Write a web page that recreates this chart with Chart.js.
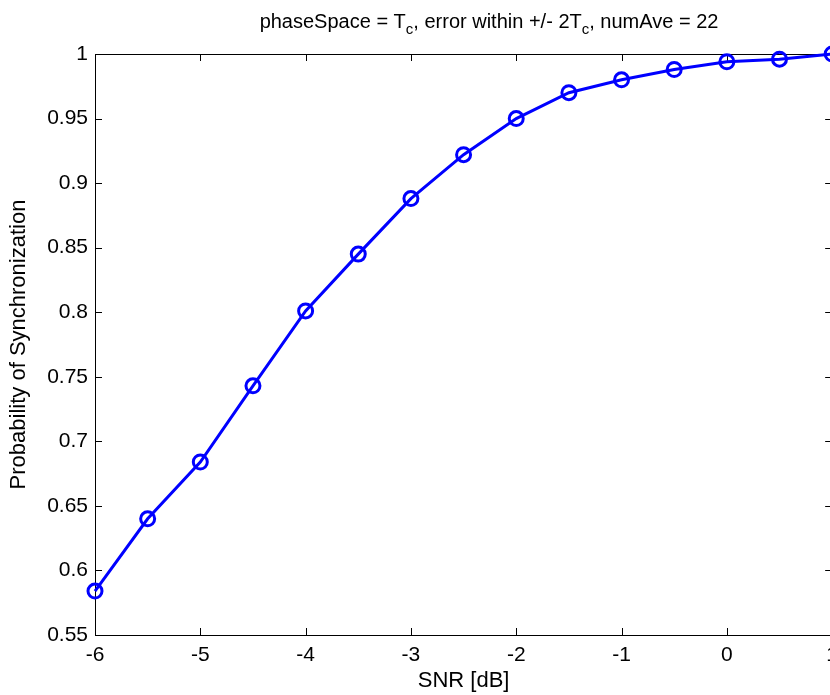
<!DOCTYPE html>
<html>
<head>
<meta charset="utf-8">
<script src="https://cdn.jsdelivr.net/npm/chart.js@4.4.1/dist/chart.umd.min.js"></script>
<style>
  html, body { margin: 0; padding: 0; background: #fff; overflow: hidden; }
  #wrap { width: 846px; height: 695px; }
</style>
</head>
<body>
<div id="wrap"><canvas id="syncChart" width="846" height="695"></canvas></div>
<script>
// values
const snrDb = [-6, -5.5, -5, -4.5, -4, -3.5, -3, -2.5, -2, -1.5, -1, -0.5, 0, 0.5, 1];
const probSync = [0.584, 0.640, 0.684, 0.743, 0.801, 0.845, 0.888, 0.922, 0.950, 0.970, 0.980, 0.988, 0.994, 0.996, 1.000];
const xTicks = [-6, -5, -4, -3, -2, -1, 0, 1];
const yTicks = [0.55, 0.6, 0.65, 0.7, 0.75, 0.8, 0.85, 0.9, 0.95, 1];
const titleParts = [
  ["phaseSpace = T", false],
  ["c", true],
  [", error within +/- 2T", false],
  ["c", true],
  [", numAve = 22", false],
];

const FONT = "'Liberation Sans', Arial, sans-serif";
const TICK_LEN = 7;

// MATLAB-style box with inward ticks on all four sides
const boxTicks = {
  id: "boxTicks",
  beforeDatasetsDraw(chart) {
    const { ctx, chartArea: a, scales } = chart;
    ctx.save();
    ctx.strokeStyle = "#000";
    ctx.lineWidth = 1;
    ctx.strokeRect(a.left + 0.5, a.top + 0.5, a.right - a.left, a.bottom - a.top);
    ctx.beginPath();
    xTicks.forEach((v) => {
      const px = Math.round(scales.x.getPixelForValue(v)) + 0.5;
      ctx.moveTo(px, a.bottom);
      ctx.lineTo(px, a.bottom - TICK_LEN);
      ctx.moveTo(px, a.top);
      ctx.lineTo(px, a.top + TICK_LEN);
    });
    yTicks.forEach((v) => {
      const py = Math.round(scales.y.getPixelForValue(v)) + 0.5;
      ctx.moveTo(a.left, py);
      ctx.lineTo(a.left + TICK_LEN, py);
      ctx.moveTo(a.right, py);
      ctx.lineTo(a.right - TICK_LEN, py);
    });
    ctx.stroke();
    ctx.restore();
  },
};

// title with subscripts
const subTitle = {
  id: "subTitle",
  afterDraw(chart) {
    const { ctx } = chart;
    const big = "20px " + FONT;
    const small = "15px " + FONT;
    ctx.save();
    ctx.fillStyle = "#000";
    ctx.textBaseline = "alphabetic";
    ctx.textAlign = "left";
    let total = 0;
    titleParts.forEach(([t, sub]) => {
      ctx.font = sub ? small : big;
      total += ctx.measureText(t).width;
    });
    let x = 489 - total / 2;
    const base = 28;
    titleParts.forEach(([t, sub]) => {
      ctx.font = sub ? small : big;
      ctx.fillText(t, x, sub ? base + 6 : base);
      x += ctx.measureText(t).width;
    });
    ctx.restore();
  },
};

new Chart(document.getElementById("syncChart"), {
  type: "line",
  data: {
    datasets: [
      {
        data: snrDb.map((s, i) => ({ x: s, y: probSync[i] })),
        borderColor: "#0000ff",
        borderWidth: 3,
        backgroundColor: "rgba(0,0,0,0)",
        pointRadius: 7,
        pointBorderWidth: 3,
        pointBorderColor: "#0000ff",
        pointBackgroundColor: "rgba(0,0,0,0)",
        tension: 0,
        clip: false,
      },
    ],
  },
  plugins: [boxTicks, subTitle],
  options: {
    responsive: false,
    animation: false,
    layout: { padding: { top: 54, right: 8, left: 0, bottom: 0 } },
    plugins: { legend: { display: false }, tooltip: { enabled: false }, title: { display: false } },
    scales: {
      x: {
        type: "linear",
        min: -6,
        max: 1,
        afterBuildTicks: (s) => { s.ticks = xTicks.map((v) => ({ value: v })); },
        afterFit: (s) => { s.height = 60; },
        grid: { display: false, drawTicks: false },
        border: { display: false },
        ticks: { color: "#000", font: { family: FONT, size: 21 }, padding: 8, maxRotation: 0 },
        title: { display: true, text: "SNR [dB]", color: "#000", font: { family: FONT, size: 22 }, padding: { top: 0, bottom: 1 } },
      },
      y: {
        min: 0.55,
        max: 1,
        afterBuildTicks: (s) => { s.ticks = yTicks.map((v) => ({ value: v })); },
        afterFit: (s) => { s.width = 95; },
        grid: { display: false, drawTicks: false },
        border: { display: false },
        ticks: {
          color: "#000",
          font: { family: FONT, size: 21 },
          padding: 7,
          callback: (v) => String(Math.round(v * 100) / 100),
        },
        title: {
          display: true,
          text: "Probability of Synchronization",
          color: "#000",
          font: { family: FONT, size: 22 },
          padding: { top: 6, bottom: 0 },
        },
      },
    },
  },
});
</script>
</body>
</html>
